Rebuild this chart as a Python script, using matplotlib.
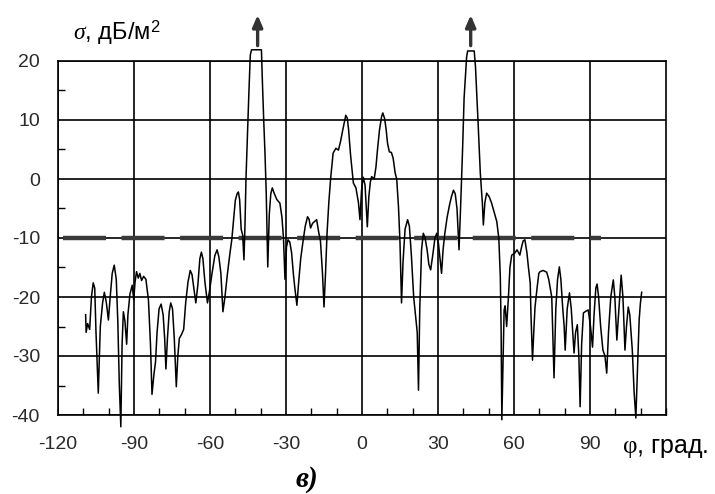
import numpy as np
import matplotlib.pyplot as plt
from matplotlib.ticker import MultipleLocator

plt.rcParams['font.family'] = ['Liberation Sans', 'DejaVu Sans']
plt.rcParams['axes.unicode_minus'] = False
plt.rcParams['mathtext.fontset'] = 'custom'
plt.rcParams['mathtext.rm'] = 'Liberation Sans'
plt.rcParams['mathtext.it'] = 'Liberation Serif:italic'
plt.rcParams['mathtext.sf'] = 'Liberation Serif'

# угол, град
phi = [-109.1, -108.9, -108.3, -107.5, -106.8, -106.1, -105.5, -105.0, -104.1, -103.3,
       -102.4, -101.7, -100.9, -100.1, -99.4, -98.6, -97.8, -97.0, -96.4, -95.8,
       -95.2, -94.7, -94.2, -93.6, -92.9, -92.4, -91.6, -90.7, -90.1, -89.6,
       -89.0, -88.3, -87.7, -87.0, -86.2, -85.3, -84.3, -83.5, -82.9, -82.1,
       -81.5, -80.9, -80.1, -79.3, -78.5, -77.9, -77.4, -76.8, -76.1, -75.5,
       -74.8, -74.1, -73.3, -72.7, -72.1, -71.3, -70.4, -69.6, -68.7, -67.8,
       -67.1, -66.4, -65.6, -64.8, -64.0, -63.4, -62.8, -62.0, -61.0, -60.2,
       -59.2, -58.1, -57.2, -56.5, -55.7, -54.9, -54.1, -53.1, -52.1, -51.4,
       -50.6, -50.0, -49.3, -48.8, -48.3, -47.7, -47.1, -46.6, -46.2, -45.8,
       -45.3, -44.7, -44.1, -43.6, -39.7, -39.3, -38.8, -38.3, -37.8, -37.2,
       -36.6, -36.0, -35.4, -34.6, -33.6, -32.4, -31.6, -31.0, -30.4, -29.8,
       -29.2, -28.5, -27.8, -27.0, -26.5, -25.7, -25.1, -24.2, -23.2, -22.4,
       -21.5, -20.9, -20.3, -19.5, -17.9, -17.1, -16.4, -15.6, -15.0, -14.4,
       -13.8, -13.1, -12.4, -11.4, -10.3, -9.3, -8.4, -7.6, -6.4, -5.8,
       -5.3, -4.5, -3.4, -2.4, -1.4, -0.8, -0.2, 0.5, 1.2, 2.1,
       2.7, 3.3, 3.8, 4.8, 5.5, 6.1, 6.9, 7.7, 8.2, 8.9,
       9.5, 10.1, 10.8, 11.6, 12.3, 13.1, 13.7, 14.4, 15.0, 15.6,
       16.2, 17.0, 18.0, 18.7, 19.5, 20.4, 21.2, 21.8, 22.3, 22.8,
       23.5, 24.2, 24.9, 25.7, 26.4, 27.1, 27.9, 28.8, 29.5, 30.2,
       30.9, 31.4, 32.0, 32.7, 33.6, 34.5, 35.3, 36.1, 36.8, 37.5,
       38.3, 38.9, 39.7, 40.3, 41.3, 41.7, 44.3, 44.8, 45.4, 45.9,
       46.7, 47.5, 47.9, 48.5, 49.2, 50.2, 51.1, 52.1, 53.2, 54.0,
       54.6, 54.9, 55.2, 55.7, 56.1, 56.5, 57.1, 57.8, 58.4, 59.1,
       60.2, 61.2, 62.3, 63.0, 63.6, 64.3, 65.1, 65.7, 66.4, 66.7,
       67.3, 67.9, 68.3, 69.1, 69.8, 70.3, 71.5, 72.9, 73.7, 74.9,
       75.3, 75.8, 76.5, 77.2, 77.9, 78.5, 79.2, 79.8, 80.2, 81.0,
       81.9, 82.6, 83.2, 83.7, 84.3, 85.0, 85.6, 86.1, 86.7, 87.4,
       88.4, 89.3, 90.2, 91.0, 91.6, 92.3, 92.8, 93.4, 94.2, 95.1,
       95.9, 96.6, 97.3, 98.2, 99.2, 99.8, 100.6, 101.4, 102.3, 103.0,
       103.8, 104.4, 105.1, 105.7, 106.7, 107.4, 108.1, 108.7, 109.4, 109.9,
       110.4]

# ЭПР, дБ/м^2
sigma = [-23.0, -26.0, -24.5, -25.5, -20.0, -17.6, -18.5, -26.0, -36.3, -25.0,
         -21.0, -19.2, -21.0, -23.9, -20.0, -16.0, -14.6, -17.0, -24.0, -34.8,
         -42.0, -28.0, -22.5, -24.0, -28.0, -23.0, -19.5, -18.0, -20.5, -17.5,
         -15.7, -16.8, -16.0, -17.2, -16.5, -17.0, -20.5, -28.0, -36.5, -33.0,
         -31.0, -26.0, -22.0, -21.2, -23.0, -27.0, -32.2, -27.0, -22.5, -21.0,
         -22.0, -27.0, -35.2, -30.0, -27.0, -26.4, -25.5, -21.0, -17.5, -15.5,
         -16.2, -18.5, -21.0, -18.0, -13.5, -12.4, -13.5, -17.5, -21.0, -19.0,
         -16.0, -13.0, -12.0, -13.2, -16.0, -22.5, -20.0, -16.0, -12.5, -10.3,
         -6.5, -3.6, -2.5, -2.2, -3.5, -8.5, -9.5, -13.7, -8.0, 0.0,
         6.6, 14.0, 21.0, 21.9, 21.9, 16.3, 10.0, 4.4, -2.4, -14.9,
         -6.0, -2.5, -1.5, -2.5, -3.5, -4.1, -6.5, -10.0, -17.0, -11.5,
         -10.3, -10.7, -12.5, -16.5, -18.5, -21.4, -18.0, -13.5, -10.3, -8.0,
         -6.4, -6.8, -8.3, -7.5, -6.9, -9.0, -10.5, -16.0, -21.7, -16.0,
         -9.2, -4.0, 0.0, 4.4, 5.2, 4.9, 6.5, 8.3, 10.8, 10.3,
         8.4, 4.0, -0.7, -1.5, -4.0, -6.9, -2.0, 0.3, -1.0, -8.1,
         -3.0, -0.5, 0.4, 0.0, 2.0, 4.9, 8.3, 10.5, 11.2, 10.3,
         8.5, 6.0, 4.6, 4.5, 3.5, 1.0, 0.0, -4.7, -10.8, -21.0,
         -14.0, -8.5, -6.9, -8.0, -13.0, -20.0, -23.5, -26.0, -35.8, -22.0,
         -12.0, -9.2, -10.0, -12.0, -14.5, -15.4, -13.0, -10.0, -9.2, -11.0,
         -14.0, -16.0, -12.0, -9.2, -6.5, -4.5, -3.0, -1.9, -2.5, -5.0,
         -12.0, -5.0, 5.0, 13.7, 20.7, 21.7, 21.7, 19.0, 13.5, 8.8,
         1.0, -4.0, -7.8, -4.0, -2.4, -3.0, -4.0, -5.5, -7.2, -10.0,
         -16.6, -25.0, -40.8, -30.0, -22.2, -21.5, -25.0, -20.0, -15.0, -12.9,
         -12.6, -12.0, -12.9, -11.5, -10.5, -10.3, -12.5, -15.0, -17.6, -23.0,
         -30.7, -25.0, -21.7, -18.5, -16.0, -15.7, -15.5, -15.8, -17.0, -20.0,
         -26.0, -33.7, -22.0, -17.0, -14.9, -17.0, -21.7, -25.0, -29.0, -22.0,
         -19.3, -22.0, -26.0, -29.5, -26.0, -24.7, -30.0, -38.6, -28.0, -22.7,
         -22.4, -22.2, -25.0, -28.5, -23.0, -18.5, -17.8, -20.0, -25.0, -29.0,
         -30.0, -32.9, -26.0, -20.0, -17.1, -20.0, -27.3, -22.0, -16.3, -20.0,
         -29.0, -25.0, -21.7, -23.0, -29.0, -36.0, -40.5, -33.0, -23.9, -21.0,
         -19.2]

# уровень -10 дБ/м^2 (пунктир)
level_phi = [-118.0, 94.4]
level_sigma = [-10, -10]

# пики, вышедшие за шкалу
peak_phi = [-41.2, 42.9]

x_ticks = [-120, -90, -60, -30, 0, 30, 60, 90]
y_ticks = [-40, -30, -20, -10, 0, 10, 20]

fig = plt.figure(figsize=(7.15, 4.94), dpi=100)
ax = fig.add_axes([58 / 715, 1 - 415 / 494, 608 / 715, 354 / 494])

ax.set_xlim(-120, 120)
ax.set_ylim(-40, 20)
ax.set_xticks(x_ticks)
ax.set_yticks(y_ticks)
ax.xaxis.set_minor_locator(MultipleLocator(10))
ax.yaxis.set_minor_locator(MultipleLocator(5))
ax.tick_params(which='major', length=0, labelsize=14, labelcolor='#2a2a2a')
ax.tick_params(axis='x', which='major', pad=15)
ax.tick_params(axis='y', which='major', pad=13)
ax.tick_params(which='minor', direction='in', length=5, width=1.0, color='black')

ax.grid(True, which='major', color='black', linewidth=1.2)
for sp in ax.spines.values():
    sp.set_color('black')
    sp.set_linewidth(1.2)

ax.plot(level_phi, level_sigma, color='#3a3a3a', linewidth=3.2,
        dashes=(9.68, 3.49), solid_capstyle='butt', dash_capstyle='butt', zorder=2.5)
ax.plot(phi, sigma, color='black', linewidth=1.1, clip_on=False, zorder=3)

for p in peak_phi:
    ax.annotate('', xy=(p, 27.8), xytext=(p, 22.6), annotation_clip=False,
                arrowprops=dict(arrowstyle='-|>,head_width=0.3,head_length=0.7',
                                color='#333333', lw=2.4, mutation_scale=10,
                                shrinkA=0, shrinkB=0))

fig.text(73 / 715, 1 - 40 / 494, r'$\sigma$, дБ/м$^2$', fontsize=17,
         ha='left', va='baseline')
fig.text(622 / 715, 1 - 453 / 494, r'$\mathsf{φ}$, град.', fontsize=18,
         ha='left', va='baseline')
fig.text(296 / 715, 1 - 487 / 494, 'в)', fontsize=21, family='Liberation Serif',
         style='italic', weight='bold', ha='left', va='baseline')

fig.savefig('out.png', dpi=100)
